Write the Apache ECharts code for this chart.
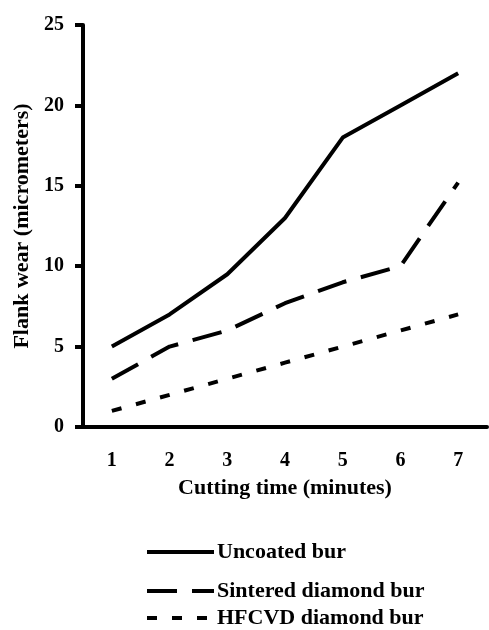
<!DOCTYPE html>
<html>
<head>
<meta charset="utf-8">
<script src="https://cdn.jsdelivr.net/npm/echarts@6/dist/echarts.min.js"></script>
<style>
  html, body { margin: 0; padding: 0; background: #fff; }
  #chart { width: 489px; height: 630px; }
</style>
</head>
<body>
<div id="chart"></div>
<script>
// data
const minutes = ['1', '2', '3', '4', '5', '6', '7']
const uncoated = [5, 7, 9.5, 13, 18, 20, 22]
const sintered = [3, 5, 6, 7.7, 9, 10, 15.2]
const hfcvd = [1, 2, 3, 4, 5, 6, 7]
const seriesNames = ['Uncoated bur', 'Sintered diamond bur', 'HFCVD diamond bur']
const dashTypes = ['solid', [30, 15], [10, 15]]

const font = 'Liberation Serif'
const myChart = echarts.init(document.getElementById('chart'))

// one legend per row, rows are not evenly spaced in the original
const legendTops = [541, 580, 607]
const legends = seriesNames.map((name, i) => ({
  data: [name],
  left: 145,
  top: legendTops[i],
  padding: 0,
  itemWidth: 67,
  itemHeight: 22,
  itemGap: 0,
  itemStyle: { opacity: 0 },
  lineStyle: { color: '#000', width: 4, type: dashTypes[i], cap: 'butt' },
  textStyle: {
    fontFamily: font,
    fontWeight: 'bold',
    fontSize: 22,
    color: '#000',
    padding: [0, 0, 0, -2]
  },
  selectedMode: false
}))

function line(name, data, type) {
  return {
    name: name,
    type: 'line',
    data: data,
    symbol: 'none',
    smooth: false,
    color: '#000',
    lineStyle: { color: '#000', width: 4, type: type, cap: 'butt' }
  }
}

let option = {
  backgroundColor: '#fff',
  animation: false,
  grid: { left: 83, right: 2, top: 25, bottom: 203, containLabel: false },
  legend: legends,
  xAxis: {
    type: 'category',
    data: minutes,
    boundaryGap: true,
    name: 'Cutting time (minutes)',
    nameLocation: 'middle',
    nameGap: 50,
    nameTextStyle: { fontFamily: font, fontWeight: 'bold', fontSize: 22, color: '#000' },
    axisLine: { lineStyle: { color: '#000', width: 4 } },
    axisTick: { length: 8, lineStyle: { color: '#000', width: 4 } },
    axisLabel: { fontFamily: font, fontWeight: 'bold', fontSize: 20, color: '#000', margin: 24 },
    splitLine: { show: false }
  },
  yAxis: {
    type: 'value',
    min: 0,
    max: 25,
    interval: 5,
    name: 'Flank wear (micrometers)',
    nameLocation: 'middle',
    nameGap: 50,
    nameTextStyle: { fontFamily: font, fontWeight: 'bold', fontSize: 22, color: '#000' },
    axisLine: { show: true, lineStyle: { color: '#000', width: 4 } },
    axisTick: { show: true, length: 8, lineStyle: { color: '#000', width: 4 } },
    axisLabel: { fontFamily: font, fontWeight: 'bold', fontSize: 20, color: '#000', margin: 19 },
    splitLine: { show: false }
  },
  series: seriesNames.map((name, i) => line(name, [uncoated, sintered, hfcvd][i], dashTypes[i]))
}
myChart.setOption(option)
</script>
</body>
</html>
